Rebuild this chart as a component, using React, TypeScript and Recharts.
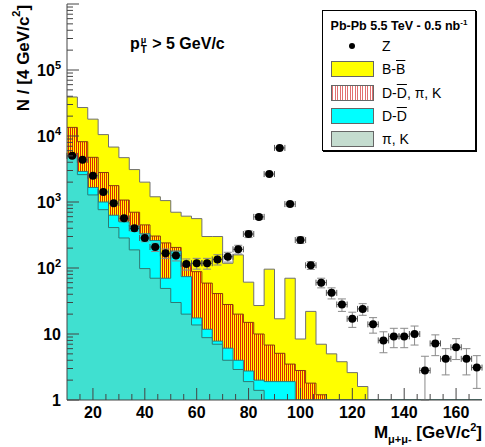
import { Area, ComposedChart, ErrorBar, Scatter, XAxis, YAxis } from "recharts";

const FONT = '"Liberation Sans", Arial, Helvetica, sans-serif';

// bin edges of the 4 GeV/c2 histograms
const binEdges = [10, 14, 18, 22, 26, 30, 34, 38, 42, 46, 50, 54, 58, 62, 66, 70, 74, 78, 82, 86, 90, 94, 98, 102, 106, 110, 114, 118, 122, 126, 130, 134, 138, 142, 146, 150, 154, 158, 162, 166, 170];

// B-Bbar (drawn as the total of all sources)
const bbCounts = [39000, 27000, 18000, 10500, 6800, 4700, 3100, 2000, 1200, 1050, 700, 610, 560, 300, 300, 118, 158, 61, 27, 96, 17, 70, 8.4, 22, 7, 5, 3.8, 2.6, 1.6, 0, 0, 0, 0, 0, 0, 0, 0, 0, 0, 0];
// D-Dbar, pi, K
const ddpkCounts = [13500, 8200, 4750, 2800, 1770, 1070, 700, 450, 305, 240, 205, 110, 88, 59, 41, 28, 20, 15, 10, 6.8, 5.1, 3.5, 2.8, 1.8, 1.2, 0, 0, 0, 0, 0, 0, 0, 0, 0, 0, 0, 0, 0, 0, 0];
// D-Dbar
const ddCounts = [4500, 2900, 1660, 1000, 630, 500, 430, 330, 260, 70, 180, 74, 17.5, 11.8, 7.8, 6.1, 4.0, 2.75, 2.0, 1.9, 1.9, 1.9, 0, 0, 0, 0, 0, 0, 0, 0, 0, 0, 0, 0, 0, 0, 0, 0, 0, 0];
// pi, K
const pkCounts = [5000, 2600, 1280, 765, 410, 285, 188, 98, 70, 49, 30, 20, 13.7, 8.8, 7.0, 4.0, 2.9, 1.9, 1.4, 0, 0, 0, 0, 0, 0, 0, 0, 0, 0, 0, 0, 0, 0, 0, 0, 0, 0, 0, 0, 0];

// Z signal points
const zMass = [12, 16, 20, 24, 28, 32, 36, 40, 44, 48, 52, 56, 60, 64, 68, 72, 76, 80, 84, 88, 92, 96, 100, 104, 108, 112, 116, 120, 124, 128, 132, 136, 140, 144, 148, 152, 156, 160, 164, 168];
const zCounts = [5000, 4350, 2500, 1420, 960, 565, 400, 285, 208, 167, 154, 115, 118, 118, 135, 148, 192, 327, 595, 2650, 6600, 930, 265, 110, 60, 42, 28, 17, 24, 14, 8, 9.2, 9.2, 10, 2.8, 7.2, 4.2, 6.3, 4.2, 3.1];
const zErrors = [160, 150, 110, 80, 65, 50, 42, 35, 30, 27, 26, 22, 22, 22, 24, 25, 29, 38, 50, 105, 165, 62, 30, 15, 10, 8, 6, 4.4, 4.8, 3.7, 2.8, 3, 3, 3.2, 1.8, 2.5, 1.8, 2.2, 1.8, 1.6];

const xTicks = [15, 20, 25, 30, 35, 40, 45, 50, 55, 60, 65, 70, 75, 80, 85, 90, 95, 100, 105, 110, 115, 120, 125, 130, 135, 140, 145, 150, 155, 160, 165];
const decades = [1, 10, 100, 1000, 10000, 100000, 1000000];
const minorSteps = [2, 3, 4, 5, 6, 7, 8, 9];

const BIN_HALF = 2;
const FLOOR = 1; // log axis bottom

const yTicks = decades.flatMap((d) => (d < 1000000 ? [d, ...minorSteps.map((k) => k * d)] : [d]));

const nBins = bbCounts.length;
const histData = binEdges.map((x, i) => {
  const b = Math.min(i, nBins - 1);
  return {
    x,
    bb: Math.max(bbCounts[b], FLOOR),
    ddpk: Math.max(ddpkCounts[b], FLOOR),
    dd: Math.max(ddCounts[b], FLOOR),
    pk: Math.max(pkCounts[b], FLOOR),
  };
});

const zData = zMass.map((x, i) => ({ x, z: zCounts[i], ez: zErrors[i], ex: BIN_HALF }));

const XTick = ({ x, y, payload }: any) => {
  const major = payload.value % 20 === 0;
  return (
    <g>
      <line x1={x} x2={x} y1={y} y2={y - (major ? 12 : 6)} stroke="#444" />
      {major && (
        <text x={x} y={y + 18} textAnchor="middle" fontFamily={FONT} fontWeight="bold" fontSize={16} fill="#000">
          {payload.value}
        </text>
      )}
    </g>
  );
};

const YTick = ({ x, y, payload }: any) => {
  const lg = Math.log10(payload.value);
  const e = Math.round(lg);
  const major = Math.abs(lg - e) < 1e-6;
  return (
    <g>
      <line x1={x} x2={x + (major ? 12 : 6)} y1={y} y2={y} stroke="#444" />
      {major && e < 6 && (
        <text x={x - 6} y={y + 6} textAnchor="end" fontFamily={FONT} fontWeight="bold" fontSize={16} fill="#000">
          {e === 0 ? "1" : "10"}
          {e > 1 && (
            <tspan dy={-7} fontSize={11}>
              {e}
            </tspan>
          )}
        </text>
      )}
    </g>
  );
};

const YTitle = ({ viewBox }: any) => {
  const cx = viewBox.x + 23;
  const cy = viewBox.y + 54;
  return (
    <text x={cx} y={cy} transform={`rotate(-90 ${cx} ${cy})`} textAnchor="middle" dominantBaseline="central" fontFamily={FONT} fontWeight="bold" fontSize={17} fill="#000">
      N / [4 GeV/c<tspan dy={-7} fontSize={11}>2</tspan>
      <tspan dy={7}>]</tspan>
    </text>
  );
};

const XTitle = ({ viewBox }: any) => {
  const rx = viewBox.x + viewBox.width;
  const by = viewBox.y + 38;
  return (
    <text x={rx} y={by} textAnchor="end" fontFamily={FONT} fontWeight="bold" fontSize={17} fill="#000">
      M<tspan dy={5} fontSize={11}>μ+μ-</tspan>
      <tspan dy={-5}> [GeV/c</tspan>
      <tspan dy={-7} fontSize={11}>2</tspan>
      <tspan dy={7}>]</tspan>
    </text>
  );
};

const ZDot = ({ cx, cy }: any) => <circle cx={cx} cy={cy} r={4} fill="#000" />;

const bar = (s: string) => <span style={{ textDecoration: "overline" }}>{s}</span>;

const swatch = (style: any) => (
  <div style={{ position: "absolute", left: 8, top: -8, width: 43, height: 16, border: "1px solid #666", boxSizing: "border-box", ...style }} />
);

const legendRows = [
  { label: <>Z</>, mark: <div style={{ position: "absolute", left: 26, top: -3, width: 6, height: 6, borderRadius: 3, background: "#000" }} /> },
  { label: <>B-{bar("B")}</>, mark: swatch({ background: "#ffff00" }) },
  {
    label: <>D-{bar("D")}, π, K</>,
    mark: swatch({ background: "repeating-linear-gradient(90deg, #e07070 0px, #e07070 1px, #fff 1px, #fff 2.5px)" }),
  },
  { label: <>D-{bar("D")}</>, mark: swatch({ background: "#00ffff" }) },
  { label: <>π, K</>, mark: swatch({ background: "#c4dccf" }) },
];

const rowTops = [35, 58, 82, 105, 128];

export default function App() {
  return (
    <div style={{ position: "absolute", left: 0, top: 0, width: 485, height: 447, background: "#fff", fontFamily: FONT }}>
      <ComposedChart width={485} height={447} data={histData} margin={{ top: 4, right: 3, bottom: 17, left: 0 }}>
        <defs>
          <pattern id="hatchRed" width="2" height="4" patternUnits="userSpaceOnUse">
            <rect x="0" y="0" width="1" height="4" fill="#dc2a00" />
          </pattern>
        </defs>
        <XAxis
          dataKey="x"
          type="number"
          domain={[10, 170]}
          ticks={xTicks}
          interval={0}
          allowDataOverflow
          height={30}
          tickSize={0}
          tickMargin={0}
          tickLine={false}
          tick={<XTick />}
          axisLine={{ stroke: "#444" }}
          label={XTitle}
        />
        <XAxis xAxisId="top" orientation="top" type="number" domain={[10, 170]} height={0} tick={false} tickLine={false} axisLine={{ stroke: "#888" }} />
        <YAxis
          scale="log"
          type="number"
          domain={[1, 1000000]}
          ticks={yTicks}
          interval={0}
          allowDataOverflow
          width={67}
          tickSize={0}
          tickMargin={0}
          tickLine={false}
          tick={<YTick />}
          axisLine={{ stroke: "#444" }}
          label={YTitle}
        />
        <YAxis yAxisId="right" orientation="right" width={0} tick={false} tickLine={false} axisLine={{ stroke: "#888" }} />
        <Area type="stepAfter" dataKey="bb" baseValue={1} stroke="#707070" strokeWidth={1} fill="#ffff00" fillOpacity={1} isAnimationActive={false} activeDot={false} />
        <Area type="stepAfter" dataKey="ddpk" baseValue={1} stroke="#8a3a10" strokeWidth={1} fill="url(#hatchRed)" fillOpacity={1} isAnimationActive={false} activeDot={false} />
        <Area type="stepAfter" dataKey="dd" baseValue={1} stroke="#2c7c7c" strokeWidth={1} fill="#00ffff" fillOpacity={1} isAnimationActive={false} activeDot={false} />
        <Area type="stepAfter" dataKey="pk" baseValue={1} stroke="#2f7a74" strokeWidth={1} fill="#40e0d0" fillOpacity={1} isAnimationActive={false} activeDot={false} />
        <Scatter data={zData} dataKey="z" shape={<ZDot />} isAnimationActive={false}>
          <ErrorBar dataKey="ez" direction="y" width={4} stroke="#8a8a8a" strokeWidth={1} />
          <ErrorBar dataKey="ex" direction="x" width={3} stroke="#555" strokeWidth={1} />
        </Scatter>
      </ComposedChart>

      <div style={{ position: "absolute", left: 130, top: 36, fontWeight: "bold", fontSize: 16, whiteSpace: "nowrap", lineHeight: 1 }}>
        p
        <span style={{ position: "relative", display: "inline-block", width: 8, height: 0 }}>
          <span style={{ position: "absolute", left: 1, top: -13, fontSize: 9, lineHeight: 1 }}>μ</span>
          <span style={{ position: "absolute", left: 1, top: -4, fontSize: 10, lineHeight: 1 }}>T</span>
        </span>
        {" > 5 GeV/c"}
      </div>

      <div style={{ position: "absolute", left: 322, top: 10, width: 154, height: 141, border: "1px solid #000", boxShadow: "1px 1px 0 #000", background: "#fff", boxSizing: "border-box" }}>
        <div style={{ position: "absolute", left: 0, right: 0, top: 7, textAlign: "center", fontWeight: "bold", fontSize: 12.5, whiteSpace: "nowrap" }}>
          Pb-Pb 5.5 TeV - 0.5 nb<sup style={{ fontSize: 8 }}>-1</sup>
        </div>
        {legendRows.map((r, i) => (
          <div key={i} style={{ position: "absolute", left: 0, top: rowTops[i], width: "100%" }}>
            {r.mark}
            <div style={{ position: "absolute", left: 59, top: -9, fontSize: 14, lineHeight: "18px", whiteSpace: "nowrap" }}>{r.label}</div>
          </div>
        ))}
      </div>
    </div>
  );
}
